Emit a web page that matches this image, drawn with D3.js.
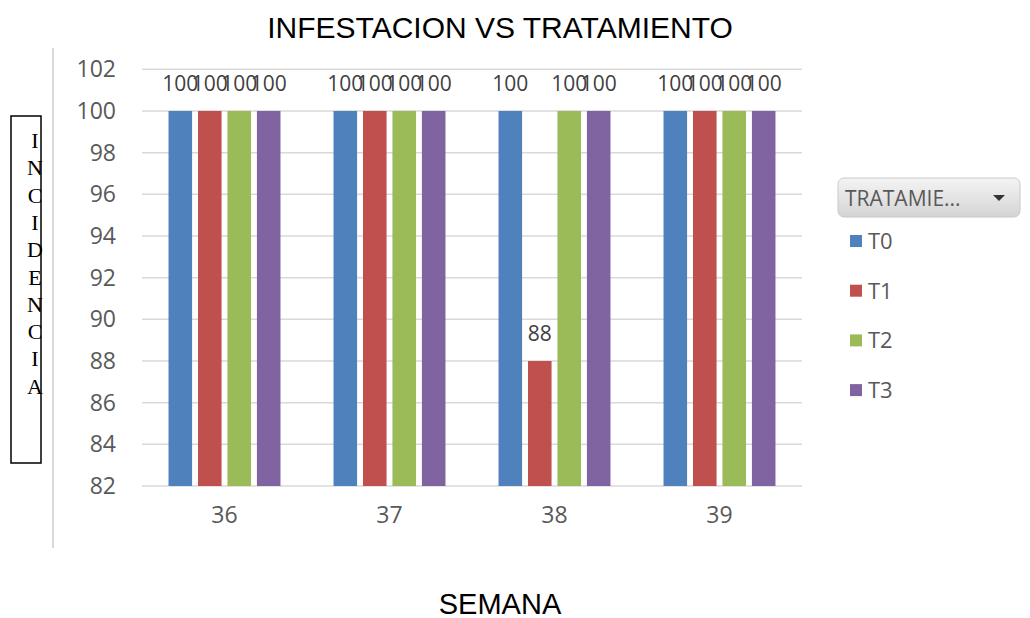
<!DOCTYPE html>
<html>
<head>
<meta charset="utf-8">
<script src="https://cdn.jsdelivr.net/npm/d3@7"></script>
<style>
body{margin:0;background:#fff;}
svg{display:block;}
</style>
</head>
<body>
<svg id="chart" width="1030" height="618"></svg>
<script>
var semanas=["36","37","38","39"]; // categories
var series=["T0","T1","T2","T3"];
var T0=[100,100,100,100];
var T1=[100,100,88,100];
var T2=[100,100,100,100];
var T3=[100,100,100,100];
var colores=["#4f81bd","#c0504d","#9bbb59","#8064a2"];
var yTicks=[82,84,86,88,90,92,94,96,98,100,102];

var valores=[T0,T1,T2,T3];
var svg=d3.select("#chart");

// scales
var x=d3.scaleBand().domain(semanas).range([142,802]);
var xs=d3.scaleBand().domain(series).range([0,x.bandwidth()]).paddingInner(0.2).paddingOuter(0.9);
var y=d3.scaleLinear().domain([82,102]).range([486,69.3]);

// title
svg.append("text").attr("x",500).attr("y",38).attr("text-anchor","middle")
  .style("font-family","Liberation Sans, Arial").style("font-size","30px").attr("fill","#000")
  .text("INFESTACION VS TRATAMIENTO");

// left frame line
svg.append("line").attr("x1",53).attr("x2",53).attr("y1",48).attr("y2",548)
  .attr("stroke","#d9d9d9").attr("stroke-width",2);

// gridlines
svg.append("g").selectAll("line").data(yTicks).enter().append("line")
  .attr("x1",142).attr("x2",802).attr("y1",function(d){return y(d);}).attr("y2",function(d){return y(d);})
  .attr("stroke","#d9d9d9").attr("stroke-width",1.5);

// y axis labels
var yAxis=d3.axisLeft(y).tickValues(yTicks).tickSize(0).tickPadding(0);
var gy=svg.append("g").attr("transform","translate(116,0)").call(yAxis);
gy.select(".domain").remove();
gy.selectAll("text").style("font-family","Open Sans, DejaVu Sans").style("font-size","23px").attr("fill","#595959");

// x axis labels
var xAxis=d3.axisBottom(x).tickSize(0).tickPadding(0);
var gx=svg.append("g").attr("transform","translate(0,507)").call(xAxis);
gx.select(".domain").remove();
gx.selectAll("text").style("font-family","Open Sans, DejaVu Sans").style("font-size","23px").attr("fill","#595959");

// bars
series.forEach(function(s,i){
  var g=svg.append("g");
  g.selectAll("rect").data(valores[i]).enter().append("rect")
    .attr("x",function(d,j){return x(semanas[j])+xs(s);})
    .attr("width",xs.bandwidth())
    .attr("y",function(d){return y(d);})
    .attr("height",function(d){return y(82)-y(d);})
    .attr("fill",colores[i]);
  g.selectAll("text").data(valores[i]).enter().append("text")
    .attr("x",function(d,j){return x(semanas[j])+xs(s)+xs.bandwidth()/2;})
    .attr("y",function(d){return y(d)-20;})
    .attr("text-anchor","middle")
    .style("font-family","Open Sans, DejaVu Sans").style("font-size","21px").attr("fill","#404040")
    .text(function(d){return d;});
});

// y title box
svg.append("rect").attr("x",11).attr("y",116).attr("width",30).attr("height",347)
  .attr("fill","none").attr("stroke","#000").attr("stroke-width",1.5);
var letras="INCIDENCIA".split("");
svg.append("g").selectAll("text").data(letras).enter().append("text")
  .attr("x",35).attr("y",function(d,i){return 148+i*27.3;}).attr("text-anchor","middle")
  .style("font-family","Liberation Serif, Times New Roman").style("font-size","22px").attr("fill","#000")
  .text(function(d){return d;});

// x title
svg.append("text").attr("x",500).attr("y",614).attr("text-anchor","middle")
  .style("font-family","Liberation Sans, Arial").style("font-size","29px").attr("fill","#000")
  .text("SEMANA");

// legend filter button
var defs=svg.append("defs");
var grad=defs.append("linearGradient").attr("id","btn").attr("x1",0).attr("y1",0).attr("x2",0).attr("y2",1);
grad.append("stop").attr("offset","0%").attr("stop-color","#f4f4f4");
grad.append("stop").attr("offset","100%").attr("stop-color","#d4d4d4");
svg.append("rect").attr("x",838).attr("y",178).attr("width",182).attr("height",39).attr("rx",6)
  .attr("fill","url(#btn)").attr("stroke","#c8c8c8");
svg.append("text").attr("x",845).attr("y",206)
  .style("font-family","Open Sans, DejaVu Sans").style("font-size","21px").attr("fill","#595959")
  .text("TRATAMIE...");
svg.append("path").attr("d","M993,195 L1005,195 L999,201 Z").attr("fill","#333");

// legend items
var leg=svg.append("g").selectAll("g").data(series).enter().append("g")
  .attr("transform",function(d,i){return "translate(850,"+(241+i*49.7)+")";});
leg.append("rect").attr("x",0).attr("y",-6).attr("width",12).attr("height",12)
  .attr("fill",function(d,i){return colores[i];});
leg.append("text").attr("x",18).attr("y",8)
  .style("font-family","Open Sans, DejaVu Sans").style("font-size","22px").attr("fill","#595959")
  .text(function(d){return d;});
</script>
</body>
</html>
